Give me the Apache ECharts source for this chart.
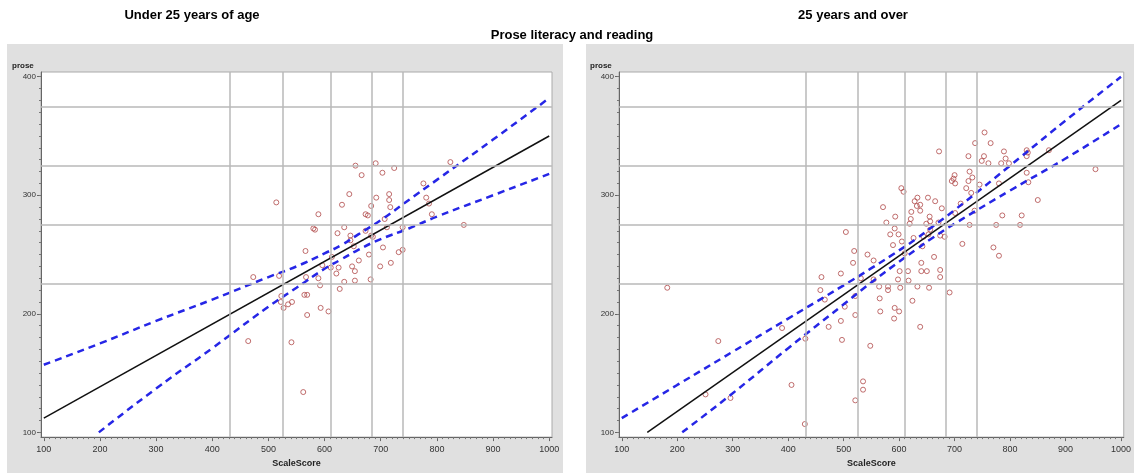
<!DOCTYPE html>
<html>
<head>
<meta charset="utf-8">
<script src="https://cdn.jsdelivr.net/npm/echarts@6/dist/echarts.min.js"></script>
<style>
  html, body { margin: 0; padding: 0; background: #fff; }
  #chart { width: 1134px; height: 473px; }
</style>
</head>
<body>
<div id="chart"></div>
<script>
// tick labels
const xTicks = [100, 200, 300, 400, 500, 600, 700, 800, 900, 1000];
const yTicks = [100, 200, 300, 400];
// reference lines (href / vref)
const refX = [431, 525, 611, 684, 740];
const refY = [225, 275, 325, 375];

// Under 25 years of age: [ScaleScore, prose]
const under25Points = [
  [514,294],[589,284],[631,292],[644,301],[580,272],[583,271],[623,268],[635,273],[566,253],
  [473,231],[519,232],[567,231],[589,230],[596,241],[613,248],[611,239],[625,239],[621,234],
  [592,224],[635,227],[627,221],[564,216],[569,216],[523,215],[522,210],[527,205],[535,208],
  [542,210],[593,205],[607,202],[569,199],[464,177],[541,176],[562,134],
  [655,325],[691,327],[724,323],[703,319],[666,317],[824,328],[776,310],[692,298],[715,301],
  [715,296],[717,290],[683,291],[781,298],[786,293],[791,284],[848,275],[673,284],[677,283],
  [707,280],[673,270],[683,266],[686,265],[711,273],[739,273],[646,266],[646,262],[652,257],
  [679,250],[704,256],[732,252],[739,254],[661,245],[649,240],[654,236],[699,240],[718,243],
  [654,228],[682,229]
];
const under25Fit = [[100,112],[1000,350]];
const under25Upper = [[100,157],[200,175],[300,194],[400,212],[500,231],[550,240],[600,251],[630,258],
  [660,267],[700,279],[750,296],[800,313],[900,347],[1000,382]];
const under25Lower = [[198,100],[300,137],[400,171],[500,206],[550,222],[600,238],[630,246],[660,254],
  [700,263],[750,272],[800,282],[900,300],[1000,318]];

// 25 years and over
const over25Points = [
  [754,353],[737,344],[765,344],[672,337],[725,333],[753,333],[749,329],[761,327],[789,337],[792,331],
  [784,327],[798,327],[830,338],[832,336],[830,333],[870,338],[954,322],[700,317],[698,314],[701,310],
  [695,312],[727,320],[732,315],[725,312],[745,309],[721,306],[730,302],[780,310],[830,319],[833,311],
  [850,296],[604,306],[608,303],[571,290],[633,298],[628,295],[652,298],[665,295],[638,292],[632,291],
  [638,287],[677,289],[622,286],[711,293],[701,285],[593,282],[621,280],[655,282],[656,278],[577,277],
  [619,276],[649,276],[671,277],[736,287],[727,275],[786,283],[821,283],[775,275],[818,275],[592,272],
  [584,267],[599,267],[656,271],[653,267],[674,266],[682,265],[626,264],[644,265],[605,261],[589,258],
  [714,259],[770,256],[780,249],[663,248],[610,251],[642,257],[640,243],[601,236],[616,236],[640,236],
  [650,236],[674,237],[674,231],[598,229],[617,228],[564,223],[580,223],[580,220],[602,222],[633,223],
  [654,222],[691,218],
  [504,269],[519,253],[517,243],[543,250],[554,245],[460,231],[495,234],[531,230],[458,220],[466,212],
  [502,206],[521,215],[495,194],[521,199],[473,189],[389,188],[431,179],[497,178],[548,173],[274,177],
  [182,222],[406,140],[535,143],[535,136],[251,132],[296,129],[521,127],[554,229],
  [565,213],[624,211],[592,205],[566,202],[600,202],[591,196],[638,189],[430,107]
];
const over25Fit = [[146,100],[1000,380]];
const over25Upper = [[100,112],[200,140],[300,168],[400,196],[500,224],[550,238.5],[600,253.5],[630,263],
  [660,273.5],[700,287.5],[800,325],[900,363],[1000,400]];
const over25Lower = [[209,100],[300,133],[400,171],[500,208],[550,226.5],[600,244],[630,254],[660,264],
  [700,276],[800,304],[900,331],[1000,360]];

const minorX = [];
for (let v = 100; v <= 1000; v += 10) minorX.push(v);
const minorY = [];
for (let v = 100; v <= 400; v += 10) minorY.push(v);

const font = 'Arial, "Liberation Sans", sans-serif';
const gridColor = '#b9b9b9';
const markerColor = '#b04a4a';
const bandColor = '#2626e6';

function majorX(gi) {
  return {
    type: 'value', gridIndex: gi, min: 95, max: 1005, position: 'bottom',
    name: 'ScaleScore', nameLocation: 'middle', nameGap: 21,
    nameTextStyle: { fontFamily: font, fontSize: 9, fontWeight: 'bold', color: '#222' },
    axisLine: { show: true, lineStyle: { color: '#666', width: 1 } },
    axisTick: { show: true, length: 4, customValues: xTicks, lineStyle: { color: '#666' } },
    axisLabel: { customValues: xTicks, formatter: v => String(v), fontFamily: font, fontSize: 9, color: '#333', margin: 8 },
    splitLine: { show: false }
  };
}
function minorXAxis(gi) {
  return {
    type: 'value', gridIndex: gi, min: 95, max: 1005, position: 'bottom',
    axisLine: { show: false },
    axisTick: { show: true, length: 2, customValues: minorX, lineStyle: { color: '#777' } },
    axisLabel: { show: false },
    splitLine: { show: false }
  };
}
function majorY(gi) {
  return {
    type: 'value', gridIndex: gi, min: 96, max: 404, position: 'left',
    axisLine: { show: true, lineStyle: { color: '#666', width: 1 } },
    axisTick: { show: true, length: 4, customValues: yTicks, lineStyle: { color: '#666' } },
    axisLabel: { customValues: yTicks, formatter: v => String(v), fontFamily: font, fontSize: 8, color: '#333', margin: 5 },
    splitLine: { show: false }
  };
}
function minorYAxis(gi) {
  return {
    type: 'value', gridIndex: gi, min: 96, max: 404, position: 'left',
    axisLine: { show: false },
    axisTick: { show: true, length: 2, customValues: minorY, lineStyle: { color: '#777' } },
    axisLabel: { show: false },
    splitLine: { show: false }
  };
}

function panelSeries(axisIdx, points, fit, upper, lower) {
  const refData = refX.map(v => ({ xAxis: v })).concat(refY.map(v => ({ yAxis: v })));
  return [
    {
      type: 'line', xAxisIndex: axisIdx, yAxisIndex: axisIdx, data: [], z: 1, silent: true,
      markLine: {
        symbol: 'none', silent: true, animation: false, label: { show: false },
        lineStyle: { color: gridColor, width: 1.5, type: 'solid' },
        data: refData
      }
    },
    {
      type: 'scatter', xAxisIndex: axisIdx, yAxisIndex: axisIdx, data: points, z: 3,
      symbol: 'circle', symbolSize: 5,
      itemStyle: { color: 'rgba(0,0,0,0)', borderColor: markerColor, borderWidth: 1 }
    },
    {
      type: 'line', xAxisIndex: axisIdx, yAxisIndex: axisIdx, data: fit, z: 4,
      showSymbol: false, lineStyle: { color: '#111', width: 1.5 }
    },
    {
      type: 'line', xAxisIndex: axisIdx, yAxisIndex: axisIdx, data: upper, z: 4, smooth: true,
      showSymbol: false, lineStyle: { color: bandColor, width: 2.5, type: [7, 5] }
    },
    {
      type: 'line', xAxisIndex: axisIdx, yAxisIndex: axisIdx, data: lower, z: 4, smooth: true,
      showSymbol: false, lineStyle: { color: bandColor, width: 2.5, type: [7, 5] }
    }
  ];
}

const chart = echarts.init(document.getElementById('chart'), null, { renderer: 'canvas' });
const option = {
  animation: false,
  backgroundColor: '#fff',
  title: [
    { text: 'Under 25 years of age', left: 187, top: 4, textAlign: 'center',
      textStyle: { fontFamily: font, fontSize: 13, fontWeight: 'bold', color: '#000' } },
    { text: '25 years and over', left: 848, top: 4, textAlign: 'center',
      textStyle: { fontFamily: font, fontSize: 13, fontWeight: 'bold', color: '#000' } },
    { text: 'Prose literacy and reading', left: 567, top: 24, textAlign: 'center',
      textStyle: { fontFamily: font, fontSize: 13, fontWeight: 'bold', color: '#000' } }
  ],
  graphic: [
    { type: 'rect', z: -10, shape: { x: 7, y: 44, width: 556, height: 429 }, style: { fill: '#e0e0e0' } },
    { type: 'rect', z: -10, shape: { x: 586, y: 44, width: 548, height: 429 }, style: { fill: '#e0e0e0' } },
    { type: 'text', left: 12, top: 62, style: { text: 'prose', font: 'bold 8px ' + font, fill: '#222' } },
    { type: 'text', left: 590, top: 62, style: { text: 'prose', font: 'bold 8px ' + font, fill: '#222' } }
  ],
  grid: [
    { left: 41, top: 72, width: 511, height: 369, show: true, backgroundColor: '#fff', borderColor: '#aaa', borderWidth: 1 },
    { left: 619, top: 72, width: 511, height: 369, show: true, backgroundColor: '#fff', borderColor: '#aaa', borderWidth: 1 }
  ],
  xAxis: [majorX(0), minorXAxis(0), majorX(1), minorXAxis(1)],
  yAxis: [majorY(0), minorYAxis(0), majorY(1), minorYAxis(1)],
  series: [].concat(
    panelSeries(0, under25Points, under25Fit, under25Upper, under25Lower),
    panelSeries(2, over25Points, over25Fit, over25Upper, over25Lower)
  )
};
chart.setOption(option);
</script>
</body>
</html>
